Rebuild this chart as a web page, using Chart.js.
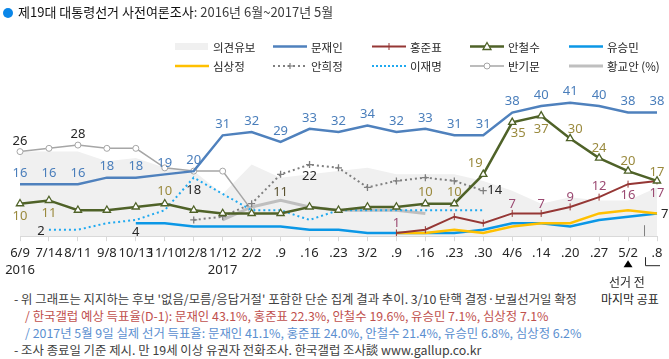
<!DOCTYPE html>
<html><head><meta charset="utf-8">
<script src="https://cdn.jsdelivr.net/npm/chart.js@4"></script>
<style>
body{margin:0;width:669px;height:359px;overflow:hidden;background:#fff;font-family:"Noto Sans CJK KR","Noto Sans",sans-serif;position:relative}
#wrap{position:absolute;left:0;top:0;width:669px;height:283px}
.t{position:absolute;white-space:nowrap;line-height:16px;height:16px}
.fn{font-size:12.4px}
</style></head><body>
<div id="wrap"><canvas id="c" width="669" height="283"></canvas></div>
<svg id="lg" width="669" height="80" style="position:absolute;left:0;top:0"></svg>
<div class="t" style="left:3px;top:4px;font-size:13px;color:#111">
<span style="display:inline-block;width:10px;height:10px;border-radius:50%;background:#0a86e8;margin-right:5px;vertical-align:-1px"></span><span>제19대 대통령선거 사전여론조사</span><span style="color:#3c3c3c">: 2016년 6월~2017년 5월</span></div>
<div id="legendText"></div>
<div class="t" style="left:609px;top:274px;font-size:12px;color:#262626">선거 전</div>
<div class="t" style="left:601px;top:291px;font-size:12px;color:#262626">마지막 공표</div>
<div class="t fn" style="left:14px;top:291px;color:#404040">- 위 그래프는 지지하는 후보 '없음/모름/응답거절' 포함한 단순 집계 결과 추이. 3/10 탄핵 결정·보궐선거일 확정</div>
<div class="t fn" style="left:25px;top:308px;color:#c0504d">/ 한국갤럽 예상 득표율(D-1): 문재인 43.1%, 홍준표 22.3%, 안철수 19.6%, 유승민 7.1%, 심상정 7.1%</div>
<div class="t fn" style="left:25px;top:325px;color:#5b8fd0">/ 2017년 5월 9일 실제 선거 득표율: 문재인 41.1%, 홍준표 24.0%, 안철수 21.4%, 유승민 6.8%, 심상정 6.2%</div>
<div class="t fn" style="left:14px;top:342px;color:#404040">- 조사 종료일 기준 제시. 만 19세 이상 유권자 전화조사. 한국갤럽 조사談 www.gallup.co.kr</div>
<script>
// ---- data ----
const categories = ['6/9','7/14','8/11','9/8','10/13','11/10','12/8','1/12','2/2','.9','.16','.23','3/2','.9','.16','.23','.30','4/6','.14','.20','.27','5/2','.8'];
const tickYears  = ['2016','','','','','','','2017','','','','','','','','','','','','','','',''];
const undecided = [26,26,26,23,24,21,20,13,22,18,19,20,21,19,19,19,17,14,10,12,11,11,15];
const moon  = [16,16,16,18,18,19,20,31,32,29,33,32,34,32,33,31,31,38,40,41,40,38,38];
const hong  = [null,null,null,null,null,null,null,null,null,null,null,null,null,1,2,6,4,7,7,9,12,16,17];
const ahn   = [10,11,8,8,9,10,8,7,7,7,9,8,9,9,10,10,19,35,37,30,24,20,17];
const yoo   = [null,null,null,null,4,4,3,3,3,3,2,2,1,1,1,1,2,4,4,3,5,6,7];
const sim   = [null,null,null,null,null,null,null,null,null,null,null,null,null,1,1,2,1,3,4,4,7,8,7];
const ahnhj = [null,null,null,null,null,null,5,6,10,19,22,21,15,17,18,17,14,null,null,null,null,null,null];
const lee   = [null,2,2,4,5,8,18,13,8,8,5,8,8,8,8,8,8,null,null,null,null,null,null];
const ban   = [26,27,28,27,27,21,20,20,8,null,null,null,null,null,null,null,null,null,null,null,null,null,null];
const hwang = [null,null,null,null,null,null,null,5,9,11,9,8,8,8,7,null,null,null,null,null,null,null,null];
const seriesNames = ['의견유보','문재인','홍준표','안철수','유승민','심상정','안희정','이재명','반기문','황교안 (%)'];

// ---- styles ----
const C = {und:'#f0f0f0', moon:'#4f81bd', hong:'#953735', ahn:'#4f6228', yoo:'#0b97e6', sim:'#ffc000', ahnhj:'#7f7f7f', lee:'#1fa9f0', ban:'#a6a6a6', hwang:'#bfbfbf'};
const LF = '13px "Noto Sans","Noto Sans CJK KR",sans-serif';

// legend
(function(){
  const svg = document.getElementById('lg');
  const lt = document.getElementById('legendText');
  const cols = [175,273,372,470,569];
  const rows = [46.5,66];
  const items = [
    {k:'box',c:C.und},{k:'line',c:C.moon,w:2.5},{k:'line',c:C.hong,w:2,m:'tick'},{k:'line',c:C.ahn,w:2.5,m:'tri'},{k:'line',c:C.yoo,w:2.5},
    {k:'line',c:C.sim,w:2.5},{k:'line',c:C.ahnhj,w:2,d:'2,3',m:'plus'},{k:'line',c:C.lee,w:2,d:'2,2'},{k:'line',c:'#a6a6a6',w:1.5,m:'circ'},{k:'line',c:C.hwang,w:3}
  ];
  let s='';
  items.forEach((it,i)=>{
    const x=cols[i%5], y=rows[Math.floor(i/5)], x2=x+34, cx=x+17;
    if(it.k==='box') s+=`<rect x="${x}" y="${y-3.5}" width="33" height="7" fill="${it.c}"/>`;
    else s+=`<line x1="${x}" y1="${y}" x2="${x2}" y2="${y}" stroke="${it.c}" stroke-width="${it.w}" ${it.d?`stroke-dasharray="${it.d}"`:''}/>`;
    if(it.m==='tick') s+=`<line x1="${cx}" y1="${y-3.5}" x2="${cx}" y2="${y+3.5}" stroke="${it.c}" stroke-width="1"/>`;
    if(it.m==='tri') s+=`<path d="M${cx} ${y-4} L${cx+4} ${y+3} L${cx-4} ${y+3} Z" fill="#fff" stroke="${it.c}" stroke-width="1.3"/>`;
    if(it.m==='plus') s+=`<path d="M${cx-3} ${y}H${cx+3}M${cx} ${y-3}V${y+3}" stroke="${it.c}" stroke-width="1.2"/>`;
    if(it.m==='circ') s+=`<circle cx="${cx}" cy="${y}" r="3" fill="#fff" stroke="${it.c}" stroke-width="1"/>`;
    lt.insertAdjacentHTML('beforeend',`<div class="t" style="left:${x2+4}px;top:${y-8}px;font-size:11.5px;color:#262626">${seriesNames[i]}</div>`);
  });
  svg.innerHTML=s;
})();

const labelPlugin = {
  id:'ptlabels',
  afterDatasetsDraw(chart){
    const ctx = chart.ctx;
    chart.data.datasets.forEach((ds,di)=>{
      if(!ds.labelAt) return;
      const meta = chart.getDatasetMeta(di);
      ds.labelAt.forEach(([i,dx,dy,align])=>{
        const p = meta.data[i]; if(!p || ds.data[i]==null) return;
        ctx.save();
        ctx.font = LF; ctx.fillStyle = ds.labelColor;
        ctx.textAlign = align||'center'; ctx.textBaseline='middle';
        ctx.fillText(String(ds.data[i]), p.x+dx, p.y+dy);
        ctx.restore();
      });
    });
    // marker for last pre-election poll
    const xs = chart.scales.x, n = categories.length;
    const xa = xs.getPixelForValue(n-2), xb = xs.getPixelForValue(n-1);
    const bottom = chart.chartArea.bottom;
    const xm = (xa+xb)/2 + 1.5;
    ctx.save();
    ctx.strokeStyle = '#7f7f7f'; ctx.lineWidth = 1;
    ctx.beginPath(); ctx.moveTo(xm+0.5, bottom-11); ctx.lineTo(xm+0.5, bottom); ctx.stroke();
    ctx.strokeStyle = '#262626';
    ctx.beginPath(); ctx.moveTo(xm+1.5, bottom+21); ctx.lineTo(xm+1.5, bottom+29.5); ctx.lineTo(xb+3, bottom+29.5); ctx.stroke();
    ctx.fillStyle = '#000';
    ctx.beginPath(); ctx.moveTo(xa, bottom+24); ctx.lineTo(xa+4.5, bottom+31); ctx.lineTo(xa-4.5, bottom+31); ctx.closePath(); ctx.fill();
    ctx.restore();
  }
};

const line = (label,data,color,extra)=>Object.assign({label,data,borderColor:color,backgroundColor:color,fill:false,tension:0,pointRadius:0,borderWidth:2.5,spanGaps:false},extra||{});

new Chart(document.getElementById('c'),{
  type:'line',
  data:{
    labels: categories.map((c,i)=>tickYears[i]?[c,tickYears[i]]:c),
    datasets:[
      line('문재인',moon,C.moon,{labelColor:'#4a7ebb',labelAt:moon.map((v,i)=>[i,0,-11])}),
      line('안철수',ahn,C.ahn,{pointStyle:'triangle',pointRadius:4.2,pointBackgroundColor:'#fff',pointBorderColor:C.ahn,pointBorderWidth:1.3,
        labelColor:'#9a8a3e',labelAt:[[0,0,13],[1,0,13],[5,0,-12],[14,0,-11],[15,0,-11],[16,-8,-11],[17,6,11],[18,0,13],[19,5,-9],[20,0,-10],[21,0,-10],[22,0,-9]]}),
      line('홍준표',hong,C.hong,{borderWidth:2,pointStyle:'line',rotation:90,pointRadius:3.5,pointBorderWidth:1,
        labelColor:'#9b4a72',labelAt:[[13,0,-10],[17,0,-9],[18,0,-9],[19,0,-10],[20,0,-11],[21,0,11],[22,0,12]]}),
      line('심상정',sim,C.sim,{labelColor:'#262626',labelAt:[[22,4,1,'left']]}),
      line('유승민',yoo,C.yoo,{labelColor:'#262626',labelAt:[[4,0,9]]}),
      line('이재명',lee,C.lee,{borderWidth:2,borderDash:[2,3],labelColor:'#262626',labelAt:[[1,-8,2],[6,0,12.5]]}),
      line('안희정',ahnhj,C.ahnhj,{borderWidth:2,borderDash:[2,3],pointStyle:'cross',pointRadius:3.5,pointBorderWidth:1.3,
        labelColor:'#262626',labelAt:[[10,0,12],[16,4,0,'left']]}),
      line('황교안',hwang,C.hwang,{borderWidth:3,labelColor:'#5a5230',labelAt:[[9,0,-8]]}),
      line('반기문',ban,'#a6a6a6',{borderWidth:1.5,pointStyle:'circle',pointRadius:3,pointBackgroundColor:'#fff',pointBorderColor:'#a6a6a6',pointBorderWidth:1,
        labelColor:'#262626',labelAt:[[0,0,-10],[2,0,-11]]}),
      {label:'의견유보',data:undecided,borderWidth:0,pointRadius:0,fill:'origin',backgroundColor:C.und,borderColor:C.und,tension:0}
    ]
  },
  options:{
    responsive:false, animation:false, devicePixelRatio:1,
    layout:{padding:{left:20,right:12,top:73.5,bottom:0}},
    plugins:{legend:{display:false},tooltip:{enabled:false}},
    scales:{
      x:{offset:false,
        grid:{display:true,drawOnChartArea:false,tickLength:5,color:'#d9d9d9'},
        border:{display:true,color:'#d9d9d9'},
        ticks:{autoSkip:false,maxRotation:0,padding:4,color:'#262626',font:{size:13,family:'"Noto Sans","Noto Sans CJK KR",sans-serif',lineHeight:1.3}}},
      y:{display:false,min:0,max:50}
    }
  },
  plugins:[labelPlugin]
});
</script>
</body></html>
